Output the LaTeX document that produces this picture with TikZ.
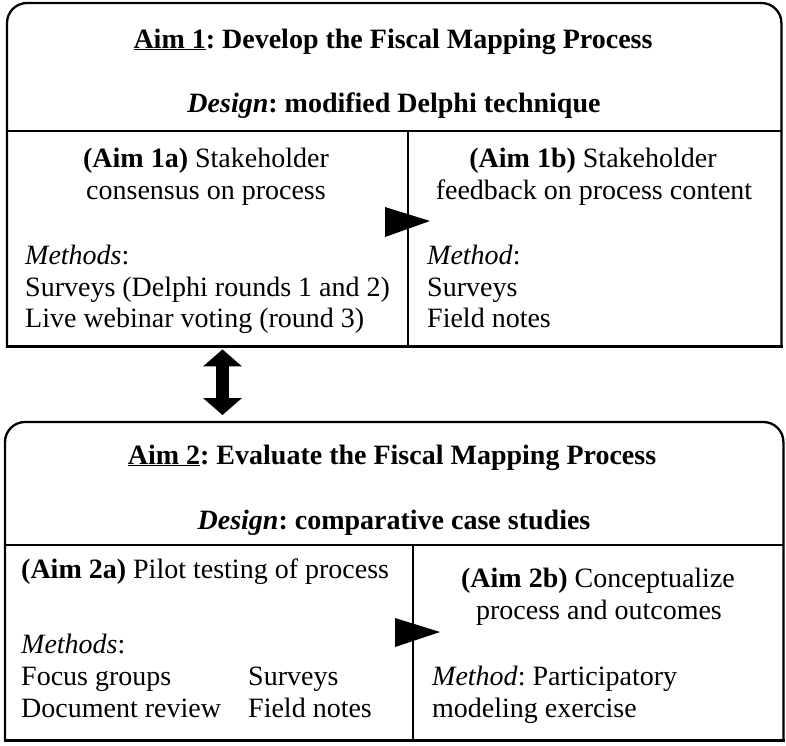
\documentclass[tikz,border=0pt]{standalone}
\usepackage{fontspec}
\setmainfont{Liberation Serif}
\usetikzlibrary{arrows.meta,calc}
\frenchspacing
\tikzset{
  boxline/.style={line width=2.3pt, draw=black, line cap=rect},
  txt/.style={inner sep=0pt, anchor=base, font=\fontsize{28}{32}\selectfont},
  ltxt/.style={txt, anchor=base west},
  frame/.style={draw=none, inner sep=0pt, anchor=north west},
  dblarrow/.style={line width=13pt, {Triangle[length=17pt,width=38pt]}-{Triangle[length=17pt,width=38pt]}},
}
\begin{document}
\begin{tikzpicture}[x=1pt,y=-1pt]
\useasboundingbox (0,0) rectangle (786,745);

% ---------- box 1 ----------
\node[frame, minimum width=774pt, minimum height=343pt] (box1) at (7,3) {};
\draw[boxline, rounded corners=20pt] (box1.south west) -- (box1.north west) -- (box1.north east) -- (box1.south east);
\draw[boxline] (box1.south west) -- (box1.south east);
\coordinate (h1l) at (7,131);
\coordinate (h1r) at (781,131);
\draw[boxline] (h1l) -- (h1r);
\coordinate (v1t) at (408,131);
\draw[boxline] (v1t) -- (v1t |- box1.south);

\node[txt] (t1) at (393,48) {\bfseries\underline{Aim 1}: Develop the Fiscal Mapping Process};
\node[txt] (d1) at (394,112) {\bfseries\itshape Design\upshape: modified Delphi technique};

\node[txt] (a1a1) at (206,167) {\textbf{(Aim 1a)} Stakeholder};
\node[txt] (a1a2) at (206,199) {consensus on process};
\node[ltxt] (m1a0) at (25,264) {\textit{Methods}:};
\node[ltxt] (m1a1) at (25,296) {Surveys (Delphi rounds 1 and 2)};
\node[ltxt] (m1a2) at (25,327) {Live webinar voting (round 3)};

\node[txt] (a1b1) at (593,167) {\textbf{(Aim 1b)} Stakeholder};
\node[txt] (a1b2) at (594,199) {feedback on process content};
\node[ltxt] (m1b0) at (427,264) {\textit{Method}:};
\node[ltxt] (m1b1) at (427,296) {Surveys};
\node[ltxt] (m1b2) at (427,327) {Field notes};

% arrow 1a -> 1b
\coordinate (tr1) at (385,207);
\fill (tr1) -- ++(0,30) -- ++(45,-16) -- cycle;

% ---------- box 2 ----------
\node[frame, minimum width=778pt, minimum height=318pt] (box2) at (5,422) {};
\draw[boxline, rounded corners=20pt] (box2.south west) -- (box2.north west) -- (box2.north east) -- (box2.south east);
\draw[boxline] (box2.south west) -- (box2.south east);
\coordinate (h2l) at (5,545);
\coordinate (h2r) at (783,545);
\draw[boxline] (h2l) -- (h2r);
\coordinate (v2t) at (413,545);
\draw[boxline] (v2t) -- (v2t |- box2.south);

\node[txt] (t2) at (392,464) {\bfseries\underline{Aim 2}: Evaluate the Fiscal Mapping Process};
\node[txt] (d2) at (394,529) {\bfseries\itshape Design\upshape: comparative case studies};

\node[ltxt] (a2a1) at (21,578) {\textbf{(Aim 2a)} Pilot testing of process};
\node[ltxt] (m2a0) at (21,653) {\textit{Methods}:};
\node[ltxt] (m2a1) at (21,685) {Focus groups};
\node[ltxt] (m2a2) at (21,717) {Document review};
\node[ltxt] (m2a3) at (248,685) {Surveys};
\node[ltxt] (m2a4) at (248,717) {Field notes};

\node[txt] (a2b1) at (598,587) {\textbf{(Aim 2b)} Conceptualize};
\node[txt] (a2b2) at (599,619) {process and outcomes};
\node[ltxt] (m2b0) at (432,685) {\textit{Method}: Participatory};
\node[ltxt] (m2b1) at (432,717) {modeling exercise};

% arrow 2a -> 2b
\coordinate (tr2) at (395,618);
\fill (tr2) -- ++(0,29) -- ++(45,-15) -- cycle;

% ---------- double arrow between aims ----------
\coordinate (ax) at (222.5,0);
\draw[dblarrow, shorten <=3pt, shorten >=7pt] (ax |- box1.south) -- (ax |- box2.north);
\end{tikzpicture}
\end{document}
